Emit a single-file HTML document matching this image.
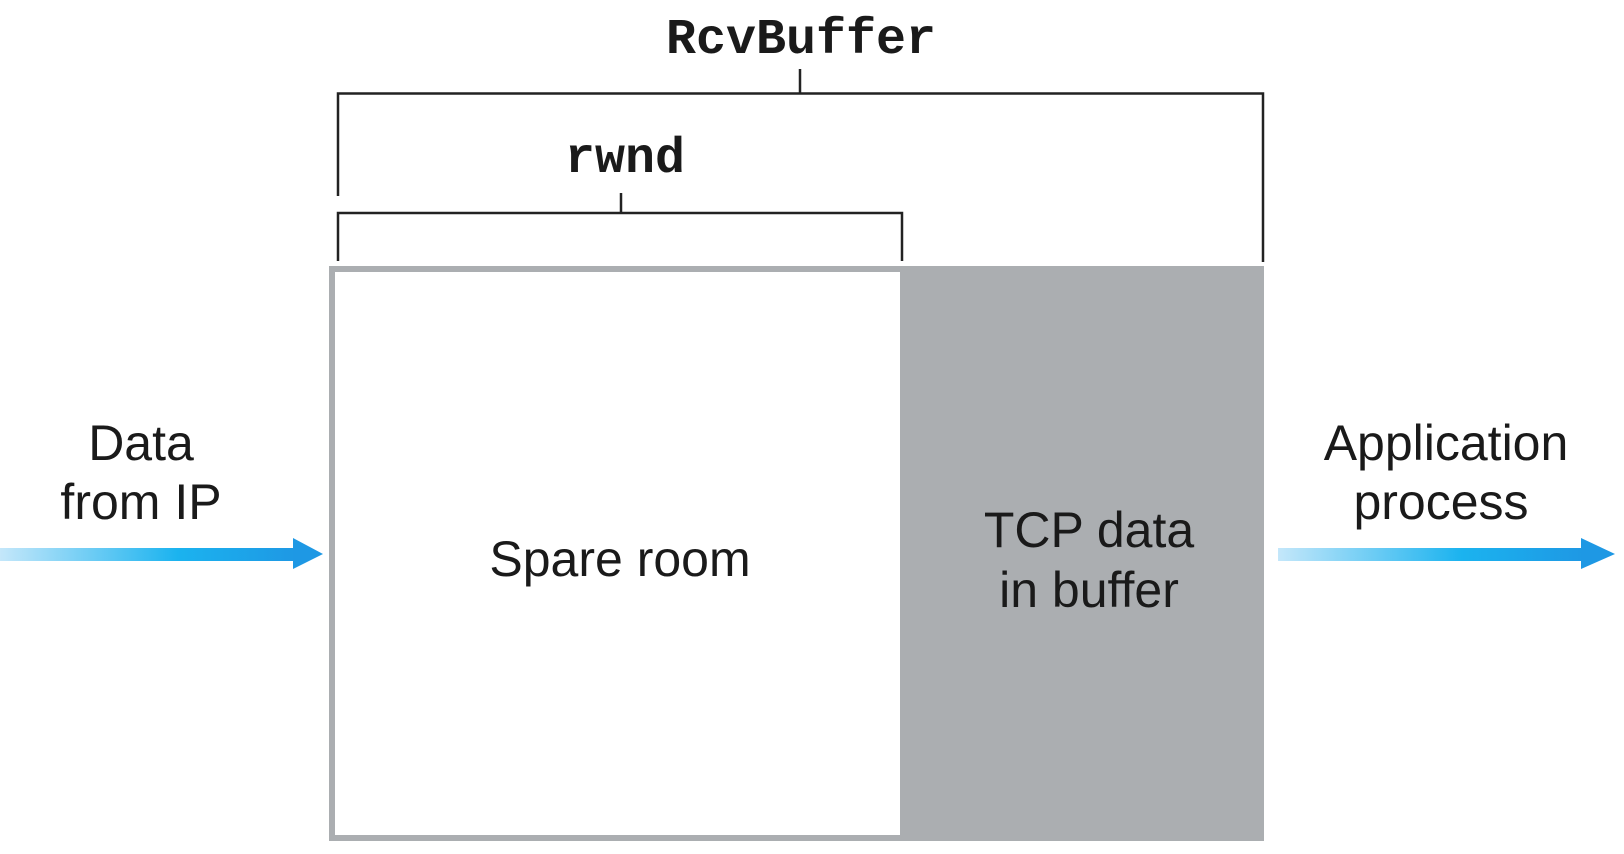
<!DOCTYPE html>
<html><head><style>
html,body{margin:0;padding:0;background:#fff;}
svg{display:block;}
.s{font-family:"Liberation Sans",sans-serif;font-size:50px;fill:#1a1a1a;}
.m{font-family:"Liberation Mono",monospace;font-size:50px;font-weight:bold;fill:#1a1a1a;}
</style></head><body>
<svg width="1624" height="854" viewBox="0 0 1624 854" xmlns="http://www.w3.org/2000/svg">
<defs>
<linearGradient id="g" x1="0" x2="1" y1="0" y2="0">
<stop offset="0" stop-color="#c4e7fa"/>
<stop offset="0.6" stop-color="#1bb3ef"/>
<stop offset="1" stop-color="#1e98e4"/>
</linearGradient>
</defs>
<rect x="329" y="266" width="935" height="575" fill="#abaeb1"/>
<rect x="335" y="272" width="565" height="563" fill="#fff"/>
<path d="M338 196 V93.5 H1263 V262 M800 69 V93" fill="none" stroke="#222" stroke-width="2.5"/>
<text class="m" x="801" y="53" text-anchor="middle">RcvBuffer</text>
<path d="M338 261 V213 H902 V261 M621 193 V213" fill="none" stroke="#222" stroke-width="2.5"/>
<text class="m" x="625" y="172" text-anchor="middle">rwnd</text>
<rect x="0" y="548" width="296" height="13" fill="url(#g)"/>
<polygon points="293,538 323,554 293,569" fill="#1e98e4"/>
<rect x="1278" y="548" width="306" height="13" fill="url(#g)"/>
<polygon points="1581,538 1615,554 1581,569" fill="#1e98e4"/>
<text class="s" x="141" y="460" text-anchor="middle">Data</text>
<text class="s" x="141" y="519" text-anchor="middle">from IP</text>
<text class="s" x="1446" y="460" text-anchor="middle">Application</text>
<text class="s" x="1441" y="519" text-anchor="middle">process</text>
<text class="s" x="620" y="576" text-anchor="middle">Spare room</text>
<text class="s" x="1089" y="547" text-anchor="middle">TCP data</text>
<text class="s" x="1089" y="607" text-anchor="middle">in buffer</text>
</svg>
</body></html>
